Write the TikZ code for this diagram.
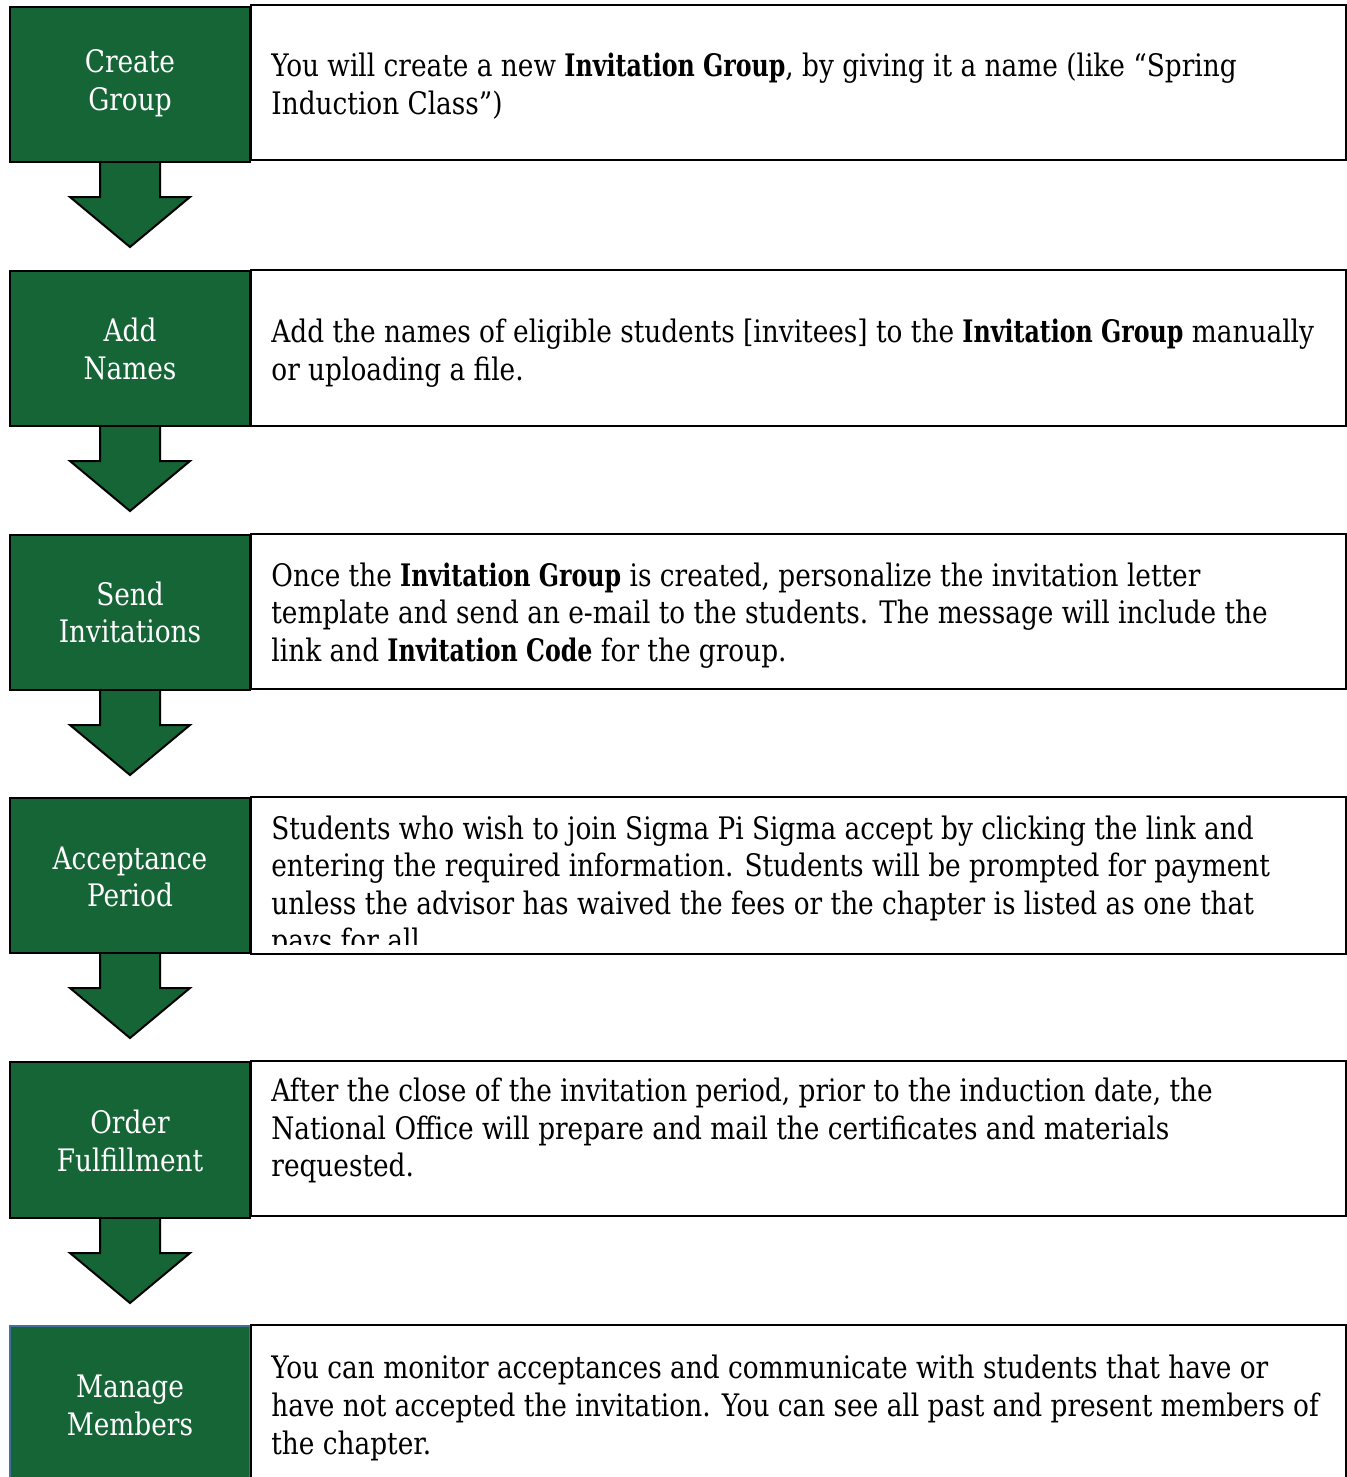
\documentclass[tikz,border=0pt]{standalone}
\usepackage{fontspec}
\setmainfont{DejaVu Serif Condensed}[FakeStretch=0.945]
\newfontfamily\narrowbf{DejaVu Serif Condensed}[FakeStretch=0.85]
\newcommand{\bb}[1]{{\narrowbf\bfseries #1}}
\usetikzlibrary{calc}
\definecolor{sgreen}{RGB}{21,101,54}
\definecolor{sblue}{RGB}{65,113,156}
\tikzset{
  gbox/.style={draw=black, line width=1pt, fill=sgreen},
  wbox/.style={draw=black, line width=1pt, fill=white},
  glabel/.style={anchor=base, text=white, inner sep=0pt, font=\fontsize{15.5}{19}\selectfont},
  btext/.style={anchor=base west, text=black, inner sep=0pt, font=\fontsize{15.5}{19}\selectfont},
  blockarrow/.style={draw=black, line width=1pt, fill=sgreen, line join=miter}
}
\begin{document}
\begin{tikzpicture}[x=0.5pt,y=-0.5pt]
\useasboundingbox (0,0) rectangle (1346,1477);
\fill[white] (0,0) rectangle (1346,1477);
% block arrows
\foreach \b in {162,426,690,953,1218}{
  \fill[sgreen] (100,\b-2) -- (100,\b+35) -- (70,\b+35) -- (130,\b+85) -- (190,\b+35) -- (160,\b+35) -- (160,\b-2) -- cycle;
  \draw[blockarrow] (100,\b) -- (100,\b+35) -- (70,\b+35) -- (130,\b+85) -- (190,\b+35) -- (160,\b+35) -- (160,\b);
}
% row 1
\draw[gbox] (10,7) rectangle (250,162);
\draw[wbox] (251,5) rectangle (1346,160);
\node[glabel] (l1a) at (130,73) {Create};
\node[glabel] (l1b) at (130,111) {Group};
\node[btext] (t1a) at (271,76) {You will create a new \bb{Invitation Group}, by giving it a name (like “Spring};
\node[btext] (t1b) at (271,114) {Induction Class”)};
% row 2
\draw[gbox] (10,271) rectangle (250,426);
\draw[wbox] (251,270) rectangle (1346,426);
\node[glabel] (l2a) at (130,341) {Add};
\node[glabel] (l2b) at (130,379) {Names};
\node[btext] (t2a) at (271,342) {Add the names of eligible students [invitees] to the \bb{Invitation Group} manually};
\node[btext] (t2b) at (271,380) {or uploading a file.};
% row 3
\draw[gbox] (10,535) rectangle (250,690);
\draw[wbox] (251,534) rectangle (1346,689);
\node[glabel] (l3a) at (130,605) {Send};
\node[glabel] (l3b) at (130,642) {Invitations};
\node[btext] (t3a) at (271,586) {Once the \bb{Invitation Group} is created, personalize the invitation letter};
\node[btext] (t3b) at (271,623) {template and send an e-mail to the students. The message will include the};
\node[btext] (t3c) at (271,661) {link and \bb{Invitation Code} for the group.};
% row 4
\draw[gbox] (10,798) rectangle (250,953);
\draw[wbox] (251,797) rectangle (1346,954);
\node[glabel] (l4a) at (130,869) {Acceptance};
\node[glabel] (l4b) at (130,906) {Period};
\begin{scope}
\clip (252,798) rectangle (1345,944);
\node[btext] (t4a) at (271,839) {Students who wish to join Sigma Pi Sigma accept by clicking the link and};
\node[btext] (t4b) at (271,876) {entering the required information. Students will be prompted for payment};
\node[btext] (t4c) at (271,914) {unless the advisor has waived the fees or the chapter is listed as one that};
\node[btext] (t4d) at (271,951) {pays for all.};
\end{scope}
% row 5
\draw[gbox] (10,1062) rectangle (250,1218);
\draw[wbox] (251,1061) rectangle (1346,1216);
\node[glabel] (l5a) at (130,1133) {Order};
\node[glabel] (l5b) at (130,1171) {Fulfillment};
\node[btext] (t5a) at (271,1101) {After the close of the invitation period, prior to the induction date, the};
\node[btext] (t5b) at (271,1139) {National Office will prepare and mail the certificates and materials};
\node[btext] (t5c) at (271,1176) {requested.};
% row 6
\draw[draw=sblue, line width=1pt, fill=sgreen] (10,1490) -- (10,1326) -- (250,1326) -- (250,1490);
\draw[wbox] (251,1490) -- (251,1325) -- (1346,1325) -- (1346,1490);
\node[glabel] (l6a) at (130,1397) {Manage};
\node[glabel] (l6b) at (130,1435) {Members};
\node[btext] (t6a) at (271,1378) {You can monitor acceptances and communicate with students that have or};
\node[btext] (t6b) at (271,1416) {have not accepted the invitation. You can see all past and present members of};
\node[btext] (t6c) at (271,1454) {the chapter.};
\end{tikzpicture}
\end{document}
